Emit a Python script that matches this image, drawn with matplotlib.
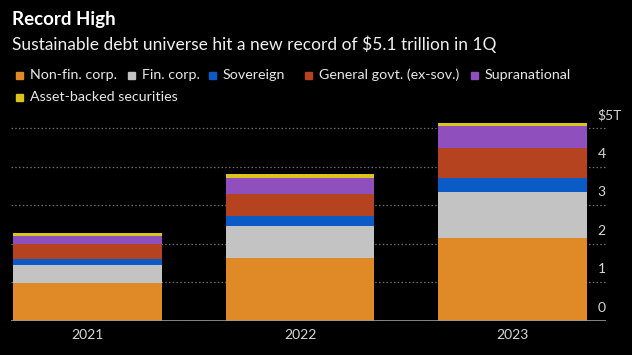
import matplotlib.pyplot as plt
import matplotlib.transforms as mtransforms
from matplotlib.patches import Rectangle
import numpy as np

# values ($ trillion)
years = ['2021', '2022', '2023']
labels = ['Non-fin. corp.', 'Fin. corp.', 'Sovereign',
          'General govt. (ex-sov.)', 'Supranational', 'Asset-backed securities']
non_fin = [0.99, 1.64, 2.14]
fin = [0.46, 0.82, 1.20]
sovereign = [0.16, 0.25, 0.37]
general_govt = [0.38, 0.57, 0.76]
supranational = [0.20, 0.43, 0.58]
asset_backed = [0.09, 0.11, 0.09]
ytick_vals = [0, 1, 2, 3, 4, 5]
ytick_labels = ['0', '1', '2', '3', '4', '$5T']

colors = ['#df8a27', '#c3c3c3', '#0b5bc6', '#b6431f', '#8f50bd', '#dbc41b']
series = [non_fin, fin, sovereign, general_govt, supranational, asset_backed]

plt.rcParams['font.family'] = ['Lato', 'DejaVu Sans']

W, H = 632, 355
fig = plt.figure(figsize=(W / 100, H / 100), dpi=100, facecolor='black')
ax = fig.add_axes([11 / W, 34 / H, 595 / W, 204.6 / H])
ax.set_facecolor('black')

x = np.arange(len(years))
bottom = np.zeros(len(years))
for vals, color in zip(series, colors):
    ax.bar(x, vals, 0.70, bottom=bottom, color=color, zorder=2, linewidth=0)
    bottom += np.array(vals)

ax.set_xlim(-0.36, 2.44)
ax.set_ylim(0, 5.3)
for s in ax.spines.values():
    s.set_visible(False)

ax.set_axisbelow(True)
ax.grid(axis='y', color='#6e6e6e', linestyle=(0, (1.2, 1.8)), linewidth=0.9)
ax.axhline(0, color='#9a9a9a', linewidth=1.2, zorder=3)

ax.set_xticks(x, years)
ax.tick_params(axis='x', length=0, pad=6, labelcolor='#d8d8d8', labelsize=10)

ax.yaxis.tick_right()
ax.set_yticks(ytick_vals, ytick_labels)
ax.tick_params(axis='y', length=0, pad=-6, labelcolor='#d8d8d8', labelsize=10)
offset = mtransforms.ScaledTranslation(0, 0.14, fig.dpi_scale_trans)
for lab in ax.get_yticklabels():
    lab.set_transform(lab.get_transform() + offset)

# titles
fig.text(12 / W, 1 - 20 / H, 'Record High', fontsize=13.5, fontweight='bold',
         color='white', va='center')
fig.text(12 / W, 1 - 44 / H,
         'Sustainable debt universe hit a new record of $5.1 trillion in 1Q',
         fontsize=12.5, color='#f0f0f0', va='center')

# legend
leg_pos = [(16, 75), (128, 75), (209, 75), (305, 75), (471, 75), (16, 97)]
for (lx, ly), lab, color in zip(leg_pos, labels, colors):
    fig.patches.append(Rectangle((lx / W, 1 - (ly + 3.5) / H), 7 / W, 7 / H,
                                 transform=fig.transFigure, color=color))
    fig.text((lx + 14) / W, 1 - ly / H, lab, fontsize=10.3, color='#e8e8e8',
             va='center')

fig.savefig('out.png', dpi=100, facecolor='black')
